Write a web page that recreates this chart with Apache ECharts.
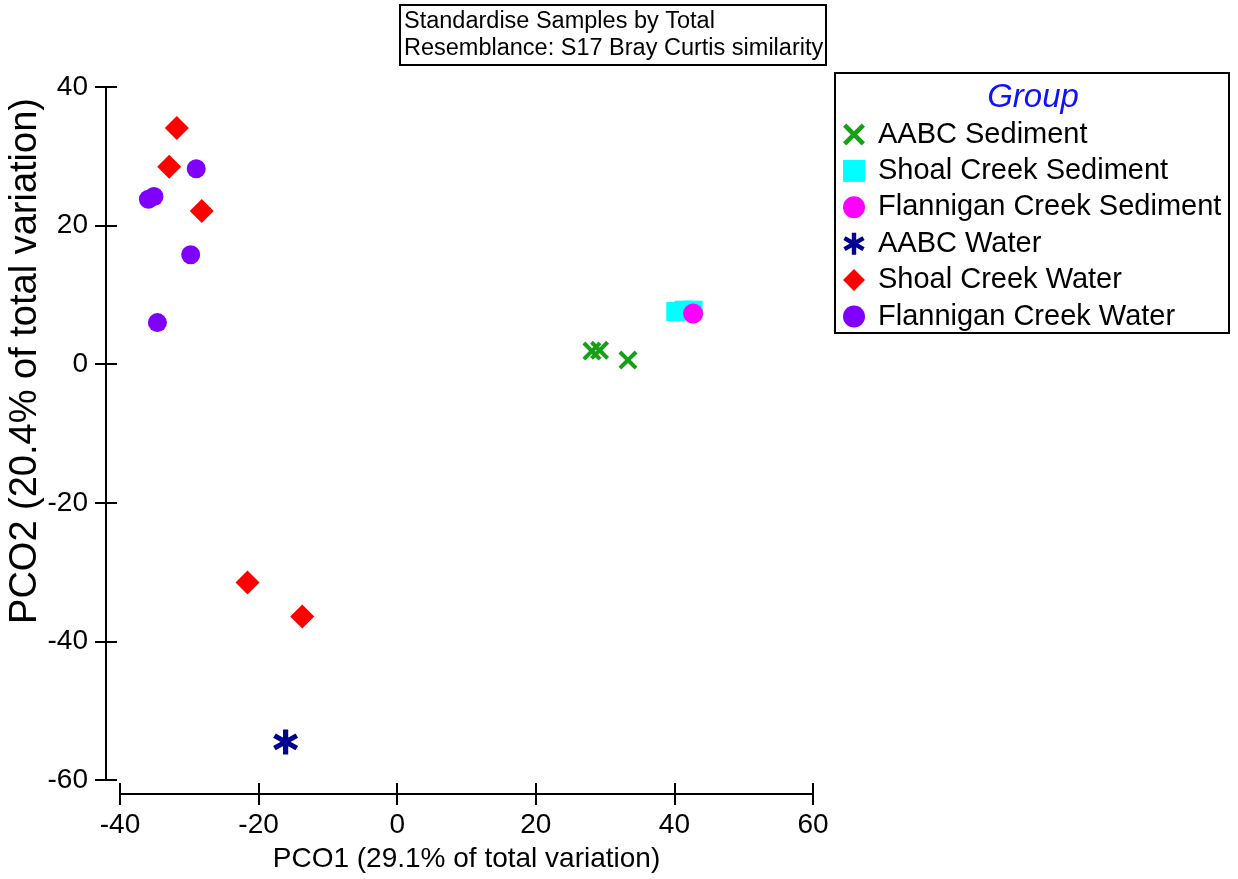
<!DOCTYPE html>
<html>
<head>
<meta charset="utf-8">
<script src="https://cdn.jsdelivr.net/npm/echarts@6/dist/echarts.min.js"></script>
<style>
  html, body { margin: 0; padding: 0; background: #fff; }
  #pcoChart { width: 1238px; height: 879px; }
</style>
</head>
<body>
<div id="pcoChart"></div>
<script>
// PCO scores
const aabcSediment = [[28.1, 1.9], [29.2, 2.0], [33.3, 0.6]];
const shoalSediment = [[40.2, 7.6], [41.4, 7.8], [42.7, 7.8]];
const flanniganSediment = [[42.7, 7.3]];
const aabcWater = [[-16.1, -54.5]];
const shoalWater = [[-31.8, 34.1], [-32.9, 28.5], [-28.2, 22.1], [-21.6, -31.5], [-13.7, -36.4]];
const flanniganWater = [[-29.0, 28.2], [-35.9, 23.8], [-35.1, 24.2], [-29.8, 15.8], [-34.6, 6.0]];

const groupNames = ["AABC Sediment", "Shoal Creek Sediment", "Flannigan Creek Sediment",
  "AABC Water", "Shoal Creek Water", "Flannigan Creek Water"];
const xRange = [-40, 60];
const yRange = [-60, 40];
const tickStep = 20;

const FONT = "'Liberation Sans', Arial, sans-serif";
// filled outlines for the cross and asterisk markers
const crossPath = "path://M0,1.5L1.5,0L5,3.5L8.5,0L10,1.5L6.5,5L10,8.5L8.5,10L5,6.5L1.5,10L0,8.5L3.5,5Z";
const starPath = "path://M4,0L6,0L6,10L4,10Z M8.83,1.63L9.83,3.37L1.17,8.37L0.17,6.63Z M0.17,3.37L1.17,1.63L9.83,6.63L8.83,8.37Z";

const styles = [
  { color: "#17a017", symbol: crossPath, size: 19 },
  { color: "#00ffff", symbol: "rect", size: 19 },
  { color: "#ff00ff", symbol: "circle", size: 20 },
  { color: "#000090", symbol: starPath, size: 25 },
  { color: "#ff0000", symbol: "diamond", size: 24 },
  { color: "#7f00ff", symbol: "circle", size: 19 },
];
const groupData = [aabcSediment, shoalSediment, flanniganSediment, aabcWater, shoalWater, flanniganWater];

const chart = echarts.init(document.getElementById("pcoChart"));

const grid = { left: 120, right: 425, top: 87, bottom: 99 };

const baseAxis = (min, max) => ({
  type: "value",
  min: min,
  max: max,
  interval: tickStep,
  offset: 14,
  splitLine: { show: false },
});

const tickStyle = { color: "#000", width: 2 };

const xMain = {
  ...baseAxis(xRange[0], xRange[1]),
  position: "bottom",
  axisLine: { show: true, onZero: false, lineStyle: tickStyle },
  axisTick: { show: true, length: 11, lineStyle: tickStyle },
  axisLabel: { color: "#000", fontSize: 28, fontFamily: FONT, margin: 17 },
  name: "PCO1 (29.1% of total variation)",
  nameLocation: "middle",
  nameGap: 51,
  nameTextStyle: { color: "#000", fontSize: 28, fontFamily: FONT },
};
// second copy of each axis only to draw the inward half of the crossing ticks
const xInner = {
  ...baseAxis(xRange[0], xRange[1]),
  position: "bottom",
  axisLine: { show: true, onZero: false, lineStyle: { color: "#000", width: 0, opacity: 0 } },
  axisTick: { show: true, inside: true, length: 11, lineStyle: tickStyle },
  axisLabel: { show: false },
};
const yMain = {
  ...baseAxis(yRange[0], yRange[1]),
  position: "left",
  axisLine: { show: true, onZero: false, lineStyle: tickStyle },
  axisTick: { show: true, length: 11, lineStyle: tickStyle },
  axisLabel: { color: "#000", fontSize: 28, fontFamily: FONT, margin: 18 },
};
const yInner = {
  ...baseAxis(yRange[0], yRange[1]),
  position: "left",
  axisLine: { show: true, onZero: false, lineStyle: { color: "#000", width: 0, opacity: 0 } },
  axisTick: { show: true, inside: true, length: 11, lineStyle: tickStyle },
  axisLabel: { show: false },
};

const series = groupNames.map((name, i) => ({
  name: name,
  type: "scatter",
  xAxisIndex: 0,
  yAxisIndex: 0,
  symbol: styles[i].symbol,
  symbolSize: styles[i].size,
  itemStyle: { color: styles[i].color, opacity: 1 },
  data: groupData[i],
}));
// empty series so the tick-only axes are bound to something
series.push({ type: "scatter", xAxisIndex: 1, yAxisIndex: 1, data: [], silent: true });

const option = {
  animation: false,
  backgroundColor: "#fff",
  textStyle: { fontFamily: FONT },
  title: {
    text: "Standardise Samples by Total\nResemblance: S17 Bray Curtis similarity",
    left: 400,
    top: 5,
    padding: [3, 3, 3, 4],
    borderColor: "#000",
    borderWidth: 2,
    textStyle: { color: "#000", fontSize: 23.5, fontWeight: "normal", fontFamily: FONT, lineHeight: 27 },
  },
  legend: {
    orient: "vertical",
    left: 843,
    top: 120,
    padding: 0,
    itemWidth: 22,
    itemHeight: 22,
    itemGap: 7.4,
    textStyle: { color: "#000", fontSize: 29, fontFamily: FONT, lineHeight: 29, padding: [0, 0, 0, 8] },
    data: groupNames.map((name, i) => ({ name: name, icon: styles[i].symbol })),
  },
  grid: grid,
  xAxis: [xMain, xInner],
  yAxis: [yMain, yInner],
  graphic: [
    {
      type: "rect",
      shape: { x: 835, y: 73, width: 394, height: 260 },
      style: { fill: "none", stroke: "#000", lineWidth: 2 },
    },
    {
      type: "text",
      x: 1033,
      y: 98,
      style: {
        text: "Group",
        fill: "#1010ff",
        fontSize: 33,
        fontStyle: "italic",
        fontFamily: FONT,
        align: "center",
        verticalAlign: "middle",
      },
    },
    {
      type: "text",
      x: 26,
      y: 361,
      rotation: Math.PI / 2,
      style: {
        text: "PCO2 (20.4% of total variation)",
        fill: "#000",
        fontSize: 38,
        fontFamily: FONT,
        align: "center",
        verticalAlign: "middle",
      },
    },
  ],
  series: series,
};

chart.setOption(option);
</script>
</body>
</html>
